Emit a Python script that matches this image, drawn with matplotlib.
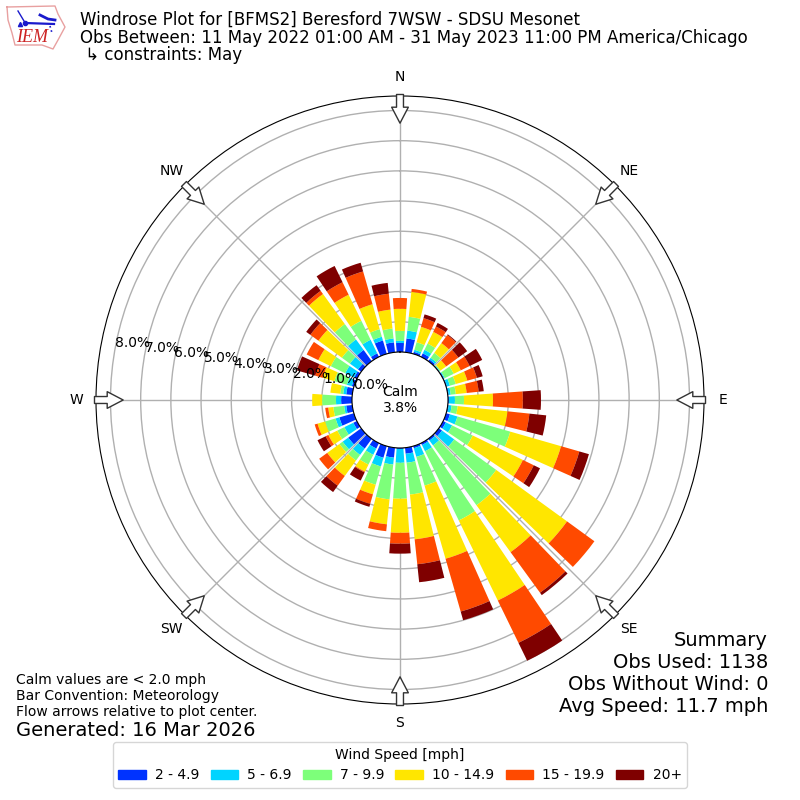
from matplotlib import pyplot as plt
from matplotlib.patches import Patch
import numpy as np

# frequency (%) per 10 degree direction bin, starting at north and going clockwise
directions = list(range(0, 360, 10))
speed_labels = ['2 - 4.9', '5 - 6.9', '7 - 9.9', '10 - 14.9', '15 - 19.9', '20+']
speed_colors = ['#0033ff', '#00d4ff', '#7dff7a', '#ffe600', '#ff4a00', '#7f0000']

bin_2_5 = [.30, .46, .07, .13, .07, .02, .03, .03, .03, .03, .03, .13, .10, .13, .07, .07, .07, .20,
           .03, .33, .40, .20, .40, .53, .13, .50, .20, .36, .20, .07, .10, .13, .46, .13, .46, .33]
bin_5_7 = [.07, .26, .07, .13, .07, .02, .03, .10, .07, .20, .10, .26, .23, .50, .20, .23, .30, .30,
           .46, .23, .30, .23, .26, .23, .33, .13, .07, .17, .10, .17, .33, .33, .43, .50, .13, .13]
bin_7_10 = [.33, .46, .26, .23, .20, .03, .33, .20, .17, .30, .20, 1.82, .76, 1.72, 2.45, 2.55, .99, 1.06,
            1.19, 1.16, .63, .36, .23, .13, .26, .36, .36, .46, .10, .43, .53, .33, .63, .70, .26, .33]
bin_10_15 = [.73, .83, .53, .43, .40, .23, .26, .40, .36, .96, 1.66, 1.75, 1.85, 2.90, 1.92, 2.95, 2.52, 1.49,
             1.13, .83, .33, .26, .63, .50, .33, .26, .17, .33, .33, .40, .46, .96, 1.23, .96, .86, .63]
bin_15_20 = [.36, .10, .30, .20, .33, .50, .33, .33, .40, .99, .73, .63, .40, 1.12, 1.66, 1.56, 1.82, .83,
             .36, .23, .33, .03, .40, .33, .10, .10, .10, 0, 0, .26, .43, .33, .13, .46, 1.13, .53]
bin_20_up = [0, 0, .13, .13, .03, .36, .46, .20, .17, .60, .56, .33, .23, 0, .10, .66, .30, .60,
             .33, 0, .10, .30, .26, 0, .30, 0, 0, 0, 0, .63, 0, .17, .23, .60, .30, .36]
speed_bins = [bin_2_5, bin_5_7, bin_7_10, bin_10_15, bin_15_20, bin_20_up]

ring_values = [0, 1, 2, 3, 4, 5, 6, 7, 8]
ring_labels = ['0.0%', '1.0%', '2.0%', '3.0%', '4.0%', '5.0%', '6.0%', '7.0%', '8.0%']
compass_angles = [0, 45, 90, 135, 180, 225, 270, 315]
compass_labels = ['N', 'NE', 'E', 'SE', 'S', 'SW', 'W', 'NW']

title_lines = ['Windrose Plot for [BFMS2] Beresford 7WSW - SDSU Mesonet',
               'Obs Between: 11 May 2022 01:00 AM - 31 May 2023 11:00 PM America/Chicago',
               ' \u21b3 constraints: May']
notes = ['Calm values are < 2.0 mph', 'Bar Convention: Meteorology', 'Flow arrows relative to plot center.']
summary = ['Summary', 'Obs Used: 1138', 'Obs Without Wind: 0', 'Avg Speed: 11.7 mph']


def draw_logo(fig):
	# rough stand-in for the IEM logo, coordinates are pixels of the logo corner
	ax = fig.add_axes([0, 1 - 54 / 800, 68 / 800, 54 / 800])
	ax.set_xlim(0, 68)
	ax.set_ylim(54, 0)
	ax.axis('off')
	ax.plot([7, 55, 58, 65, 58, 53, 42, 15, 12, 8, 7], [7, 6, 14, 27, 40, 49, 45, 45, 33, 20, 7],
		color='#e8a0a0', lw=1)
	ax.plot([25, 54], [23, 24], color='#1a1acc', lw=1.6)
	ax.plot([18, 24], [11, 21], color='#1a1acc', lw=1)
	ax.plot([40, 48, 55], [15, 19, 20], color='#1a1acc', lw=2)
	ax.plot([50, 52], [26, 33], color='#1a1acc', lw=1.2, ls=':')
	ax.plot([20], [24], marker='^', color='#1a1acc', ms=3)
	ax.plot([25], [23], marker='o', color='#1a1acc', ms=3)
	ax.text(16, 38, 'IEM', color='#cc2222', fontsize=13, family='Liberation Serif', style='italic', va='center')


def main():
	fig = plt.figure(figsize=(8, 8), dpi=100)
	ax = fig.add_axes([96 / 800, 96 / 800, 608 / 800, 608 / 800], projection='polar')
	ax.set_theta_zero_location('N')
	ax.set_theta_direction(-1)
	ax.set_axisbelow(True)

	theta = np.radians(directions)
	bottom = np.zeros(len(directions))
	for values, color in zip(speed_bins, speed_colors):
		ax.bar(theta, values, width=np.radians(8), bottom=bottom, color=color, linewidth=0)
		bottom = bottom + np.array(values)

	ax.set_rorigin(-1.59)
	ax.set_rmin(0)
	ax.set_rmax(8.48)

	# ring labels sit above the bars while the grid stays under them
	ax.set_rgrids(ring_values, [''] * len(ring_values))
	for r, label in zip(ring_values, ring_labels):
		ax.text(np.radians(280), r, label, ha='left', va='bottom', fontsize=10, zorder=6)
	ax.set_thetagrids(compass_angles, compass_labels)
	ax.grid(True, color='#b0b0b0', lw=1)

	# white flow arrows around the edge
	for angle in compass_angles:
		ax.annotate('', xy=(np.radians(angle), 7.58), xytext=(np.radians(angle), 8.53),
			arrowprops=dict(width=5, headwidth=12, headlength=11.5, shrink=0, facecolor='white',
				edgecolor='#333333', lw=1), annotation_clip=False, zorder=5)

	ax.text(0, -1.59, 'Calm\n3.8%', ha='center', va='center', fontsize=10, linespacing=1.2)

	for i, line in enumerate(title_lines):
		fig.text(80 / 800, 1 - (20 + i * 17.7) / 800, line, fontsize=12, va='center')
	for i, line in enumerate(notes):
		fig.text(16 / 800, 1 - (680 + i * 16) / 800, line, fontsize=10, va='center')
	fig.text(16 / 800, 1 - 730 / 800, 'Generated: 16 Mar 2026', fontsize=14, va='center')
	for i, line in enumerate(summary):
		fig.text(768 / 800, 1 - (640 + i * 22) / 800, line, fontsize=14, ha='right', va='center')

	handles = [Patch(color=c, label=l) for c, l in zip(speed_colors, speed_labels)]
	fig.legend(handles=handles, title='Wind Speed [mph]', ncol=6, loc='lower center',
		bbox_to_anchor=(0.5, 12 / 800), borderaxespad=0, fontsize=10, title_fontsize=10,
		handletextpad=0.65, columnspacing=0.8)

	draw_logo(fig)
	fig.savefig('out.png', dpi=100)


if __name__ == "__main__":
	main()
